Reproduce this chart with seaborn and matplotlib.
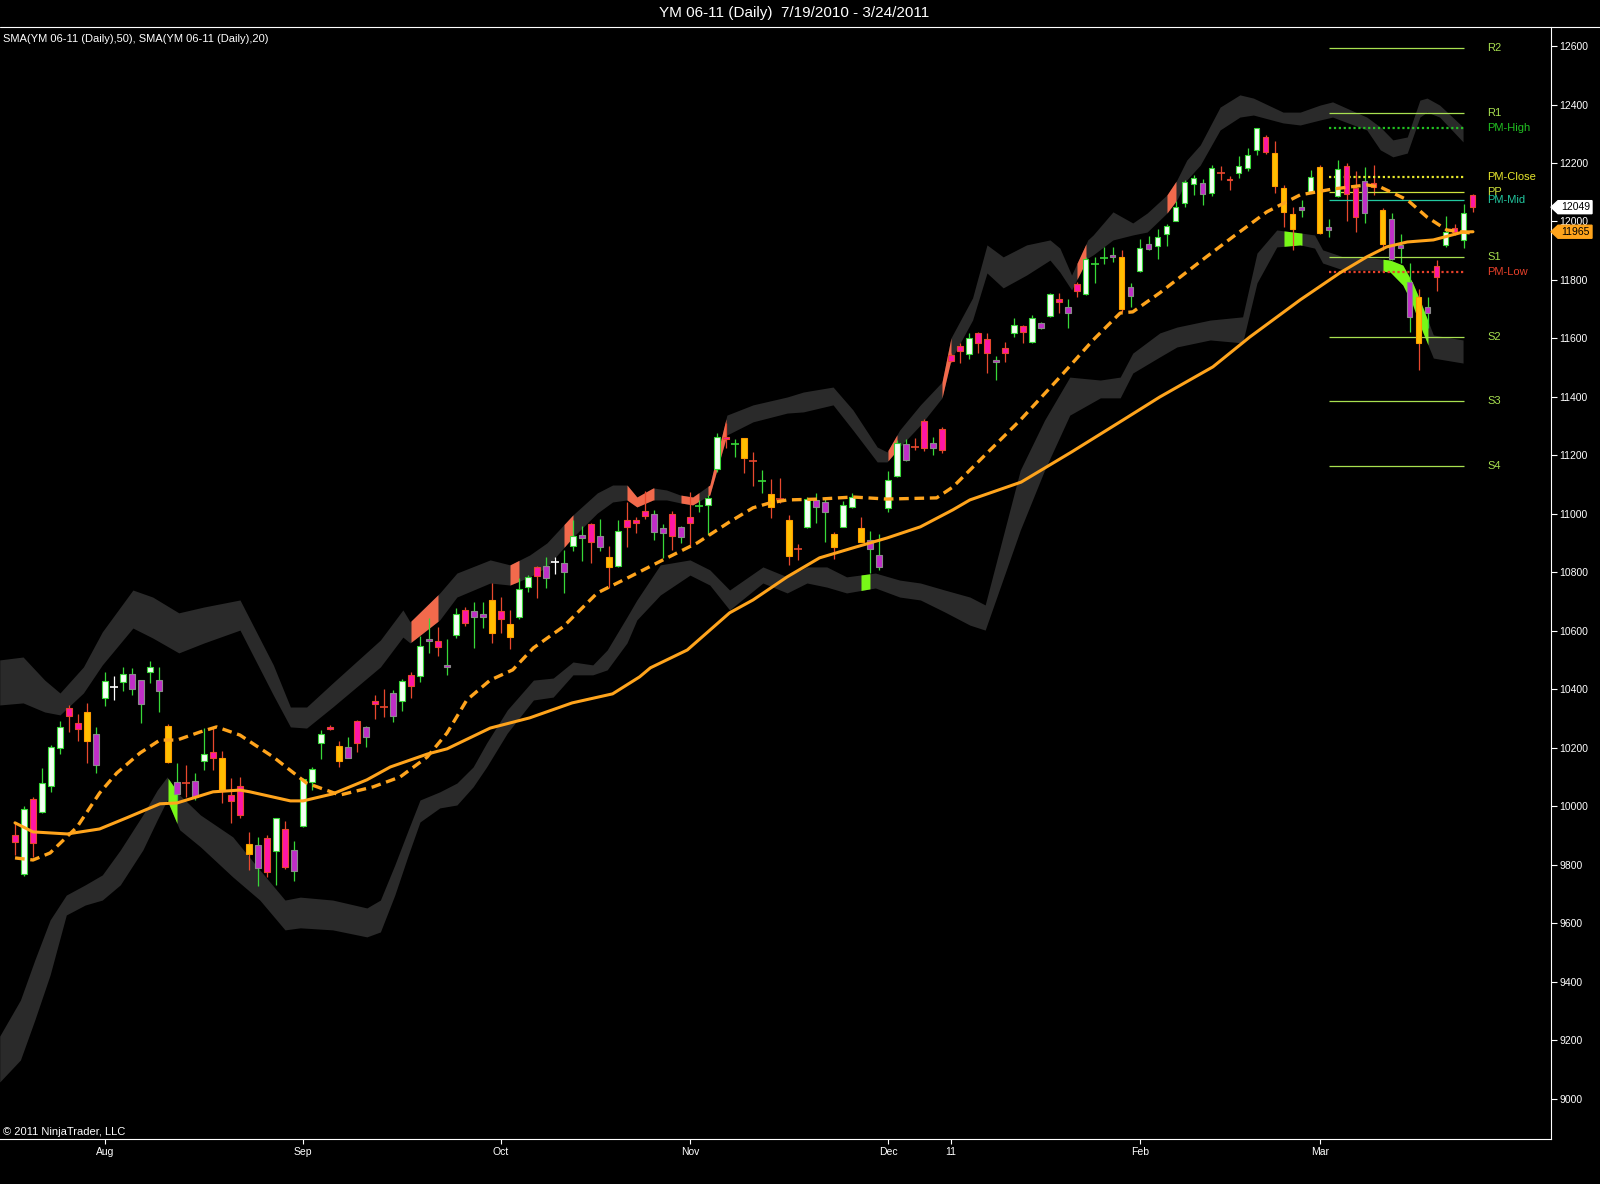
"""
YM 06-11 daily candles, 7/19/2010 - 3/24/2011, NinjaTrader-style dark chart.
Values read off the reference picture; x is the bar number (0 = 7/19/2010).
"""
import numpy as np
import matplotlib
matplotlib.use('Agg')
import matplotlib.pyplot as plt
import matplotlib.transforms as mtransforms
from matplotlib.patches import Polygon
from matplotlib.lines import Line2D
import seaborn as sns

# ---------------- data ----------------
bar_open = [
    9902, 9768, 10025, 9982, 10071, 10199, 10335, 10284, 10322, 10247,
    10370, 10407, 10424, 10452, 10434, 10459, 10431, 10276, 10085, 10079,
    10088, 10156, 10185, 10164, 10038, 10070, 9870, 9868, 9891, 9849,
    9923, 9851, 9933, 10085, 10216, 10270, 10208, 10204, 10292, 10273,
    10361, 10340, 10387, 10359, 10448, 10447, 10571, 10566, 10482, 10586,
    10672, 10668, 10658, 10706, 10668, 10624, 10649, 10751, 10820, 10822,
    10835, 10831, 10892, 10928, 10966, 10925, 10852, 10823, 10980, 10980,
    11010, 10999, 10952, 10999, 10957, 10991, 11027, 11030, 11153, 11264,
    11238, 11259, 11182, 11114, 11067, 11051, 10979, 10879, 10954, 11048,
    11040, 10930, 10957, 11023, 10951, 10911, 10860, 11022, 11131, 11238,
    11230, 11318, 11242, 11291, 11543, 11575, 11546, 11618, 11597, 11526,
    11566, 11618, 11643, 11589, 11652, 11678, 11734, 11709, 11786, 11751,
    11855, 11876, 11884, 11880, 11777, 11832, 11922, 11917, 11956, 12003,
    12062, 12127, 12133, 12098, 12165, 12147, 12165, 12182, 12244, 12288,
    12233, 12113, 12025, 12048, 12102, 12185, 11982, 12088, 12190, 12116,
    12140, 12130, 12041, 12007, 11920, 11792, 11741, 11706, 11848, 11919,
    11979, 11937, 12090]
bar_high = [
    9942, 10001, 10033, 10130, 10210, 10293, 10347, 10316, 10353, 10273,
    10459, 10446, 10478, 10472, 10434, 10497, 10478, 10281, 10147, 10142,
    10115, 10269, 10273, 10191, 10096, 10102, 9914, 9897, 9902, 9959,
    9950, 9882, 10096, 10136, 10261, 10278, 10224, 10236, 10295, 10276,
    10381, 10402, 10398, 10436, 10459, 10583, 10643, 10615, 10573, 10677,
    10683, 10700, 10700, 10765, 10717, 10672, 10780, 10791, 10823, 10854,
    10854, 10877, 10980, 10960, 10968, 10983, 10892, 10980, 11042, 10991,
    11079, 11014, 10966, 11010, 10960, 11076, 11048, 11065, 11276, 11310,
    11255, 11259, 11213, 11150, 11120, 11124, 10996, 10897, 11057, 11071,
    11057, 10937, 11046, 11071, 10991, 10943, 10931, 11147, 11253, 11255,
    11259, 11324, 11262, 11299, 11550, 11583, 11620, 11623, 11618, 11540,
    11589, 11669, 11646, 11680, 11657, 11754, 11754, 11734, 11794, 11880,
    11877, 11912, 11912, 11903, 11789, 11940, 11950, 11973, 11991, 12071,
    12142, 12159, 12144, 12193, 12190, 12156, 12224, 12250, 12318, 12296,
    12275, 12125, 12050, 12073, 12176, 12193, 12007, 12210, 12199, 12174,
    12187, 12193, 12045, 12028, 11957, 11857, 11768, 11743, 11868, 12019,
    11990, 12060, 12094]
bar_low = [
    9834, 9763, 9828, 9979, 10050, 10178, 10256, 10224, 10150, 10113,
    10343, 10364, 10395, 10381, 10286, 10423, 10324, 10147, 10016, 10033,
    10022, 10124, 10124, 10011, 9942, 9959, 9783, 9728, 9760, 9731,
    9786, 9746, 9929, 10056, 10162, 10261, 10136, 10164, 10187, 10204,
    10298, 10307, 10290, 10327, 10372, 10427, 10526, 10514, 10449, 10577,
    10617, 10541, 10609, 10558, 10592, 10537, 10640, 10734, 10712, 10746,
    10795, 10729, 10875, 10839, 10831, 10875, 10746, 10820, 10888, 10936,
    10982, 10911, 10848, 10877, 10902, 10888, 11006, 10928, 11145, 11224,
    11196, 11141, 11096, 11073, 10985, 11036, 10825, 10843, 10951, 10970,
    10903, 10845, 10954, 11019, 10903, 10797, 10808, 11006, 11128, 11182,
    11219, 11216, 11202, 11210, 11518, 11515, 11530, 11552, 11483, 11458,
    11521, 11606, 11583, 11583, 11631, 11675, 11686, 11635, 11743, 11749,
    11789, 11854, 11863, 11692, 11706, 11826, 11903, 11871, 11917, 12000,
    12048, 12091, 12056, 12088, 12142, 12108, 12150, 12173, 12227, 12231,
    12096, 11982, 11902, 12016, 12096, 11957, 11946, 12085, 12002, 11965,
    11994, 12091, 11902, 11868, 11857, 11623, 11492, 11635, 11763, 11914,
    11954, 11911, 12033]
bar_close = [
    9877, 9993, 9874, 10079, 10204, 10270, 10310, 10264, 10224, 10142,
    10430, 10407, 10452, 10400, 10352, 10478, 10395, 10151, 10043, 10079,
    10033, 10178, 10164, 10054, 10017, 9971, 9836, 9788, 9777, 9959,
    9792, 9780, 10093, 10127, 10248, 10264, 10156, 10167, 10216, 10236,
    10349, 10340, 10310, 10429, 10413, 10549, 10565, 10546, 10476, 10658,
    10626, 10647, 10647, 10592, 10641, 10580, 10743, 10783, 10788, 10780,
    10835, 10803, 10925, 10917, 10903, 10888, 10818, 10942, 10957, 10968,
    10994, 10940, 10934, 10926, 10920, 10968, 11027, 11055, 11262, 11255,
    11238, 11190, 11182, 11114, 11023, 11051, 10857, 10879, 11051, 11023,
    11006, 10886, 11031, 11059, 10905, 10880, 10820, 11116, 11242, 11185,
    11230, 11227, 11224, 11219, 11524, 11558, 11603, 11583, 11552, 11518,
    11552, 11646, 11621, 11669, 11637, 11752, 11726, 11686, 11763, 11871,
    11855, 11876, 11877, 11700, 11745, 11908, 11905, 11948, 11986, 12048,
    12136, 12148, 12093, 12182, 12165, 12142, 12191, 12226, 12318, 12239,
    12121, 12031, 11973, 12039, 12151, 11959, 11971, 12178, 12093, 12016,
    12030, 12117, 11922, 11871, 11908, 11672, 11583, 11686, 11809, 11965,
    11963, 12028, 12049]

# paint-bar state per bar: u=up, g=down (grey frame), r=down (red frame),
# y=strong down, w/x/c = doji (white / red / green)
bar_state = ("ruruuurryg" "uwuggugygx" "guryrrygru" "rguuurygrg"
             "rxgurugrgu" "rggyryuurg" "wgugrgyurr" "rggrgrcuur"
             "cyxcyxyxug" "gyuuygguug" "xrgrrrurrg" "rurugurgru"
             "ccgyguguuu" "uuguxruuur" "yyyguygurr" "grygggygru" "rur")

sma50_idx = [0, 2, 5.8, 9.4, 12.4, 16.1, 18, 19.8, 22, 25, 26.1, 30.6, 32, 35.3,
             39.1, 41.7, 45.8, 48, 52.8, 57.2, 61.9, 66.4, 69.4, 70.6, 74.7, 79.4,
             82, 85.8, 89.4, 93.1, 96.9, 100.6, 104.2, 106.1, 111.8, 117.4, 123.1,
             127.2, 133.1, 137.2, 142.8, 147.2, 150.2, 152.4, 154.7, 157.6, 160.9, 162]
sma50_val = [9944, 9913, 9906, 9923, 9961, 10009, 10012, 10029, 10050, 10056, 10050,
             10019, 10019, 10043, 10091, 10135, 10179, 10197, 10268, 10303, 10354,
             10385, 10443, 10474, 10535, 10662, 10706, 10785, 10850, 10884, 10918,
             10956, 11014, 11048, 11109, 11212, 11321, 11400, 11503, 11605, 11732,
             11824, 11879, 11913, 11930, 11937, 11964, 11965]

sma20_idx = [0, 2, 3.9, 6.9, 9.4, 11.3, 13.9, 16.1, 18, 20.6, 22.4, 25, 28.7, 32.4,
             36.1, 39.8, 42.8, 45.8, 48, 50.2, 52.8, 55.3, 57.6, 60.9, 64.7, 68.3,
             72, 75.8, 79.4, 82, 83.9, 85.8, 89.4, 93.1, 96.9, 102.4, 104.2, 106.1,
             111.7, 116.1, 119.8, 122.8, 124.2, 127.2, 132.2, 135.3, 139.1, 142.8,
             146.4, 150.2, 151.7, 154.7, 156.9, 159.1, 160.9, 162]
sma20_val = [9824, 9817, 9841, 9930, 10046, 10114, 10183, 10227, 10227, 10255, 10272,
             10244, 10169, 10080, 10039, 10067, 10101, 10169, 10251, 10364, 10432,
             10467, 10542, 10614, 10730, 10785, 10843, 10901, 10973, 11021, 11038,
             11048, 11051, 11058, 11051, 11055, 11092, 11150, 11321, 11468, 11595,
             11687, 11691, 11756, 11875, 11947, 12033, 12091, 12111, 12125, 12118,
             12074, 12015, 11971, 11964, 11960]

upper_idx = [-1.7, 0.9, 3.3, 5.0, 7.6, 9.7, 13.1, 15.3, 18.2, 21.0, 25.0, 28.7, 30.6,
             32.4, 35.3, 40.6, 43.1, 43.9, 47.2, 49.1, 52.8, 55.0, 57.2, 59.1, 62.0,
             64.7, 66.4, 68.0, 69.1, 70.9, 72.4, 73.9, 75.3, 77.2, 79.1, 82.0, 85.8,
             87.6, 90.9, 93.1, 95.8, 96.9, 98.3, 100.6, 103.0, 104.0, 106.4, 108.0,
             109.8, 112.4, 115.0, 116.1, 117.4, 119.2, 119.8, 122.0, 124.2, 125.8,
             128.0, 129.1, 130.2, 131.7, 133.9, 136.1, 137.6, 140.9, 142.8, 145.0,
             146.4, 150.2, 151.7, 153.1, 154.7, 156.1, 156.9, 158.3, 160.9]
upper_top = [10501, 10511, 10432, 10388, 10477, 10597, 10740, 10716, 10662, 10682,
             10706, 10484, 10340, 10340, 10422, 10569, 10672, 10631, 10730, 10798,
             10843, 10826, 10860, 10901, 10997, 11072, 11099, 11099, 11058, 11089,
             11082, 11065, 11058, 11099, 11338, 11373, 11400, 11417, 11434, 11356,
             11229, 11212, 11287, 11373, 11451, 11602, 11739, 11920, 11879, 11920,
             11937, 11909, 11817, 11937, 11954, 12033, 11995, 12029, 12091, 12142,
             12210, 12262, 12391, 12433, 12422, 12374, 12374, 12398, 12409, 12357,
             12323, 12279, 12289, 12415, 12422, 12398, 12323]
upper_bot = [10347, 10354, 10323, 10313, 10388, 10484, 10610, 10576, 10525, 10559,
             10603, 10381, 10272, 10268, 10340, 10477, 10579, 10559, 10638, 10716,
             10764, 10757, 10785, 10819, 10921, 11003, 11041, 11048, 11024, 11048,
             11048, 11038, 11031, 11065, 11270, 11315, 11345, 11349, 11373, 11287,
             11178, 11178, 11229, 11304, 11397, 11527, 11663, 11824, 11773, 11817,
             11868, 11827, 11766, 11875, 11886, 11937, 11954, 11964, 12029, 12074,
             12142, 12193, 12313, 12357, 12364, 12337, 12330, 12347, 12357, 12313,
             12245, 12221, 12234, 12357, 12374, 12357, 12272]

lower_idx = [-1.7, 0.6, 2.2, 3.9, 5.7, 7.8, 9.7, 11.7, 14.2, 15.8, 16.9, 18.3, 20.6,
             24.2, 27.2, 30.0, 31.7, 35.3, 39.1, 40.6, 42.2, 43.7, 45.0, 47.2, 49.1,
             50.9, 52.4, 54.7, 57.6, 59.8, 62.0, 64.2, 65.8, 68.0, 69.1, 71.7, 75.0,
             77.2, 79.4, 83.1, 85.8, 88.0, 90.2, 92.4, 95.6, 98.3, 100.6, 103.3,
             106.1, 107.8, 111.7, 114.4, 117.2, 120.6, 122.8, 124.2, 127.2, 129.1,
             132.8, 136.4, 138.0, 140.2, 142.8, 144.4, 145.3, 147.6, 150.9, 152.8,
             154.2, 155.3, 156.1, 157.6, 160.9]
lower_top = [9215, 9338, 9475, 9612, 9697, 9732, 9766, 9851, 9971, 10056, 10101,
             10039, 9971, 9896, 9783, 9680, 9690, 9680, 9653, 9680, 9800, 9920,
             10022, 10050, 10080, 10135, 10217, 10330, 10432, 10439, 10494, 10484,
             10535, 10648, 10706, 10826, 10843, 10809, 10740, 10819, 10785, 10819,
             10819, 10785, 10798, 10774, 10764, 10740, 10716, 10689, 11150, 11321,
             11468, 11458, 11468, 11550, 11619, 11639, 11663, 11674, 11892, 11971,
             11961, 11954, 11903, 11879, 11875, 11868, 11851, 11790, 11732, 11612,
             11595]
lower_bot = [9058, 9133, 9270, 9424, 9629, 9663, 9680, 9732, 9851, 9954, 10022,
             9920, 9862, 9759, 9680, 9578, 9585, 9578, 9554, 9571, 9697, 9834,
             9947, 9995, 10005, 10067, 10135, 10251, 10364, 10374, 10450, 10450,
             10467, 10559, 10638, 10723, 10791, 10757, 10672, 10764, 10730, 10764,
             10750, 10730, 10747, 10716, 10706, 10665, 10620, 10603, 10945, 11150,
             11338, 11397, 11397, 11482, 11537, 11571, 11595, 11585, 11790, 11913,
             11920, 11909, 11858, 11834, 11834, 11827, 11783, 11715, 11646, 11533,
             11516]

# bars where price touched a band (band segment gets painted)
upper_touch = [(44, 47), (55, 56), (61, 62), (68, 71), (74, 76), (77, 79),
               (97, 98), (103, 104), (118, 119), (128, 129)]
lower_touch = [(17, 18), (94, 95), (141, 143), (152, 157)]

pivot_names = ['R2', 'R1', 'PM-High', 'PM-Close', 'PP', 'PM-Mid',
               'S1', 'PM-Low', 'S2', 'S3', 'S4']
pivot_levels = [12592, 12370, 12318, 12151, 12100, 12073,
                11877, 11826, 11604, 11385, 11165]
pivot_from, pivot_to = 146, 161

month_idx = [10, 32, 54, 75, 97, 104, 125, 145]
month_labels = ['Aug', 'Sep', 'Oct', 'Nov', 'Dec', '11', 'Feb', 'Mar']

assert len(bar_state) == len(bar_open) == len(bar_close) == 163
assert len(lower_idx) == len(lower_top) == len(lower_bot)
assert len(upper_idx) == len(upper_top) == len(upper_bot)

# ---------------- style ----------------
sns.set_theme(style='dark')
plt.rcParams['font.family'] = ['Liberation Sans', 'DejaVu Sans']

UP_GREEN = '#38d838'
RED_WICK = '#e8482e'
STATE_STYLE = {
    'u': ('#f4fff4', UP_GREEN, UP_GREEN),
    'g': ('#c02ec8', '#8a8a8a', UP_GREEN),
    'r': ('#ff16a6', RED_WICK, RED_WICK),
    'y': ('#ffbf00', '#ff9c00', RED_WICK),
}
DOJI_COLOR = {'w': 'white', 'x': RED_WICK, 'c': UP_GREEN}
PIVOT_STYLE = {
    'R2': ('#a8e050', '-'), 'R1': ('#a8e050', '-'), 'S1': ('#a8e050', '-'),
    'S2': ('#a8e050', '-'), 'S3': ('#a8e050', '-'), 'S4': ('#a8e050', '-'),
    'PP': ('#cfe23c', '-'), 'PM-Mid': ('#22c8a0', '-'),
    'PM-High': ('#22c022', ':'), 'PM-Close': ('#e8e82c', ':'),
    'PM-Low': ('#e8402a', ':'),
}
BAND_GREY = '#2a2a2a'

W, H = 1600, 1184
fig = plt.figure(figsize=(W / 100, H / 100), dpi=100, facecolor='black')
ax = fig.add_axes([0, 1 - 1139 / H, 1551 / W, (1139 - 27) / H])
ax.set_facecolor('black')
ax.grid(False)

# bands
ax.fill_between(upper_idx, upper_bot, upper_top, color=BAND_GREY, lw=0, zorder=1)
ax.fill_between(lower_idx, lower_bot, lower_top, color=BAND_GREY, lw=0, zorder=1)


def paint_band(idx, top, bot, a, b, color):
    xs = np.concatenate([[a], [v for v in idx if a < v < b], [b]])
    ax.fill_between(xs, np.interp(xs, idx, bot), np.interp(xs, idx, top),
                    color=color, lw=0, zorder=2)


for a, b in upper_touch:
    paint_band(upper_idx, upper_top, upper_bot, a, b, '#f26a4c')
for a, b in lower_touch:
    paint_band(lower_idx, lower_top, lower_bot, a, b, '#78f818')

# candles
o = np.array(bar_open, float)
h = np.array(bar_high, float)
l = np.array(bar_low, float)
c = np.array(bar_close, float)
x = np.arange(len(o))
states = np.array(list(bar_state))

for st, (face, edge, wick) in STATE_STYLE.items():
    m = states == st
    ax.vlines(x[m], l[m], h[m], color=wick, lw=0.9, zorder=3)
    body_lo = np.minimum(o[m], c[m])
    body_h = np.maximum(np.abs(c[m] - o[m]), 4)
    ax.bar(x[m], body_h, bottom=body_lo, width=0.56, color=face,
           edgecolor=edge, linewidth=0.8, zorder=4)
for st, col in DOJI_COLOR.items():
    m = states == st
    ax.vlines(x[m], l[m], h[m], color=col, lw=0.9, zorder=3)
    ax.hlines(o[m], x[m] - 0.45, x[m] + 0.45, color=col, lw=1.2, zorder=4)

# moving averages
sns.lineplot(x=sma50_idx, y=sma50_val, ax=ax, color='#ffa41c', linewidth=2.2,
             zorder=5)
sns.lineplot(x=sma20_idx, y=sma20_val, ax=ax, color='#ffa41c', linewidth=2.4,
             linestyle=(0, (2.9, 1.7)), zorder=5)

# pivot levels
for name, lvl in zip(pivot_names, pivot_levels):
    col, ls = PIVOT_STYLE[name]
    lw = 1.6 if ls == ':' else 0.9
    dash = (0, (1, 1.2)) if ls == ':' else '-'
    ax.hlines(lvl, pivot_from, pivot_to, color=col, lw=lw, linestyle=dash, zorder=3)
    ax.text(163.6, lvl, name, color=col, fontsize=8, ha='left', va='center',
            zorder=6)

# axes
ax.set_xlim(-1.667, 170.67)
ax.set_ylim(8863, 12665)
ax.yaxis.tick_right()
ax.set_yticks(range(9000, 12601, 200))
ax.set_yticklabels([str(v) for v in range(9000, 12601, 200)])
ax.set_xticks(month_idx)
ax.set_xticklabels(month_labels)
ax.tick_params(axis='y', colors='white', labelsize=7.5, length=4.3, width=0.8,
               pad=1.5, direction='out', right=True, left=False)
ax.tick_params(axis='x', colors='white', labelsize=7.5, length=3.6, width=0.8,
               pad=2, direction='out', bottom=True)
for side in ['left', 'top']:
    ax.spines[side].set_visible(False)
for side in ['right', 'bottom']:
    ax.spines[side].set_color('white')
    ax.spines[side].set_linewidth(0.8)
ax.set_xlabel('')
ax.set_ylabel('')
if ax.get_legend():
    ax.get_legend().remove()

# price tags on the axis
tag_tr = mtransforms.blended_transform_factory(ax.transAxes, ax.transData)


def price_tag(value, face):
    tip, right, half = 7 / 1551, 41 / 1551, 6.5 * 3.419
    ax.add_patch(Polygon([(1.0, value), (1 + tip, value + half),
                          (1 + right, value + half), (1 + right, value - half),
                          (1 + tip, value - half)], closed=True, transform=tag_tr,
                         facecolor=face, edgecolor=face, clip_on=False, zorder=10))
    ax.text(1 + (tip + right) / 2 + 0.0005, value, f'{value:.0f}', transform=tag_tr,
            ha='center', va='center', fontsize=7.5, color='black',
            clip_on=False, zorder=11)


price_tag(bar_close[-1], 'white')
price_tag(sma50_val[-1], '#ffa41c')

# frame line and texts
fig.add_artist(Line2D([0, 1], [1 - 27 / H] * 2, color='white', lw=0.8))
fig.text(794 / W, 1 - 13 / H, 'YM 06-11 (Daily)  7/19/2010 - 3/24/2011',
         color='white', fontsize=11, ha='center', va='center')
fig.text(3 / W, 1 - 39 / H, 'SMA(YM 06-11 (Daily),50), SMA(YM 06-11 (Daily),20)',
         color='white', fontsize=8, ha='left', va='center')
fig.text(3 / W, 1 - 1132 / H, '\u00a9 2011 NinjaTrader, LLC',
         color='white', fontsize=8, ha='left', va='center')

fig.savefig('out.png', dpi=100, facecolor='black')
